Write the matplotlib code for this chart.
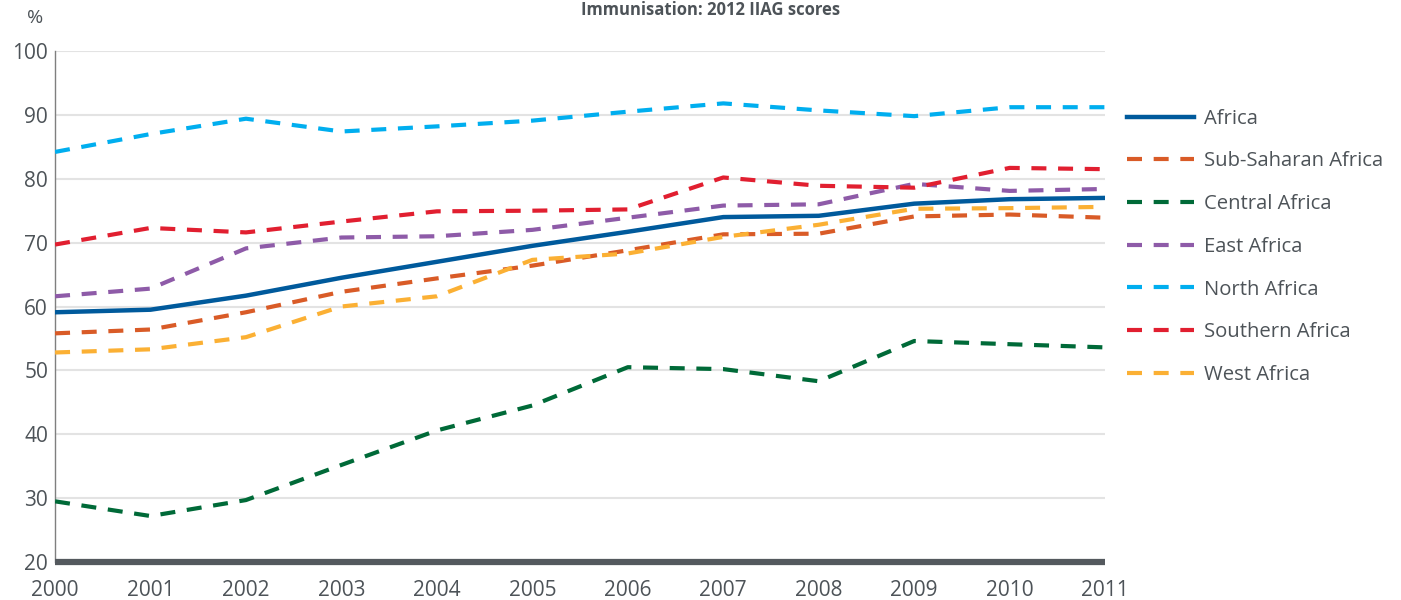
import matplotlib
matplotlib.use("Agg")
import matplotlib.pyplot as plt

years = list(range(2000, 2012))
africa =        [59.1, 59.5, 61.7, 64.5, 67.0, 69.5, 71.7, 74.0, 74.2, 76.1, 76.8, 77.0]
sub_saharan =   [55.8, 56.4, 59.1, 62.3, 64.4, 66.4, 68.8, 71.3, 71.4, 74.1, 74.4, 73.9]
central =       [29.5, 27.2, 29.7, 35.2, 40.6, 44.5, 50.5, 50.2, 48.3, 54.6, 54.1, 53.6]
east =          [61.6, 62.8, 69.1, 70.8, 71.0, 72.0, 73.9, 75.8, 76.0, 79.2, 78.1, 78.4]
north =         [84.2, 87.0, 89.4, 87.4, 88.2, 89.1, 90.5, 91.8, 90.7, 89.8, 91.2, 91.2]
southern =      [69.7, 72.3, 71.6, 73.3, 74.9, 75.0, 75.2, 80.2, 78.9, 78.6, 81.7, 81.5]
west =          [52.8, 53.3, 55.2, 60.0, 61.6, 67.3, 68.3, 70.9, 72.8, 75.3, 75.4, 75.6]

labels = ["Africa", "Sub-Saharan Africa", "Central Africa", "East Africa",
          "North Africa", "Southern Africa", "West Africa"]
series = [africa, sub_saharan, central, east, north, southern, west]
colors = ["#005A9C", "#D95B27", "#006A38", "#8E5BA8", "#00AEEF", "#E11F30", "#FBB034"]

yticks = [20, 30, 40, 50, 60, 70, 80, 90, 100]
title = "Immunisation: 2012 IIAG scores"

plt.rcParams['font.family'] = ['Open Sans', 'DejaVu Sans']
txt = "#4D5358"

fig = plt.figure(figsize=(14.01, 6.0), dpi=100)
ax = fig.add_axes([0.0393, 0.0633, 0.7495, 0.8517])

for lab, vals, c in zip(labels, series, colors):
    if lab == "Africa":
        ax.plot(years, vals, color=c, lw=3.2, solid_joinstyle='round', label=lab, zorder=3)
    else:
        ax.plot(years, vals, color=c, lw=3.0, linestyle=(0, (3.6, 2.8)),
                dash_joinstyle='round', label=lab, zorder=3)

ax.set_xlim(2000, 2011)
ax.set_ylim(20, 100)
ax.set_yticks(yticks)
ax.set_xticks(years)
ax.grid(axis='y', color='#E3E3E3', lw=1.5, zorder=0)
ax.set_axisbelow(True)
for s in ['top', 'right']:
    ax.spines[s].set_visible(False)
ax.spines['left'].set_color('#7F7F7F')
ax.spines['left'].set_linewidth(1.0)
ax.spines['bottom'].set_color('#54595E')
ax.spines['bottom'].set_linewidth(4.5)
ax.spines['bottom'].set_capstyle('butt')
ax.tick_params(axis='both', length=0, labelsize=15, colors=txt)
ax.tick_params(axis='y', pad=5)
ax.tick_params(axis='x', pad=13)
for t in ax.get_xticklabels() + ax.get_yticklabels():
    t.set_color(txt)

fig.text(0.025, 0.97, "%", fontsize=14, color=txt, ha='center', va='center')
fig.text(0.507, 0.998, title, fontsize=12, fontweight='bold', color=txt, ha='center', va='top')

leg = ax.legend(loc='upper left', bbox_to_anchor=(1.013, 0.903), frameon=False,
                fontsize=14.6, handlelength=3.3, handletextpad=0.5, labelspacing=1.12,
                borderaxespad=0)
for t in leg.get_texts():
    t.set_color(txt)

fig.savefig("out.png", dpi=100)
